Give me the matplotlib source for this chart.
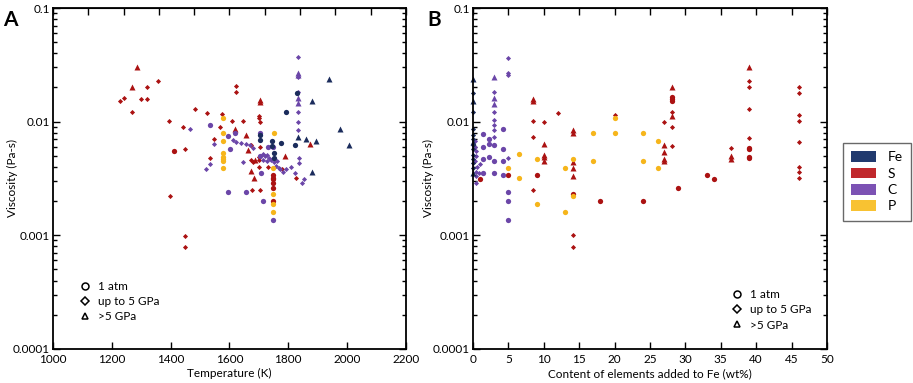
import matplotlib
matplotlib.use("Agg")
import matplotlib.pyplot as plt
from matplotlib.lines import Line2D
from matplotlib.patches import Patch
from matplotlib.ticker import LogLocator, NullFormatter, FixedLocator

plt.rcParams['font.family'] = ['Lato', 'DejaVu Sans']

# marker kinds: o = 1 atm, d = up to 5 GPa, t = >5 GPa
ELEMENTS = ["Fe", "S", "C", "P"]
COLORS = {"Fe": "#1b2c5c", "S": "#ab1212", "C": "#6b46a8", "P": "#f6b51b"}
LEGEND_COLORS = {"Fe": "#213a6e", "S": "#c0282c", "C": "#7c52b4", "P": "#f8c232"}

# ---- panel A: temperature (K) vs viscosity (Pa s)
a_fe = [
    (1705, 0.0077, "o"), (1705, 0.0069, "o"), (1746, 0.0068, "o"), (1746, 0.0061, "o"),
    (1751, 0.0053, "o"), (1751, 0.0048, "o"), (1776, 0.0065, "o"), (1792, 0.0122, "o"),
    (1824, 0.0062, "o"), (1829, 0.0178, "o"),
    (1834, 0.0074, "t"), (1860, 0.0071, "t"), (1881, 0.0153, "t"), (1894, 0.0068, "t"),
    (1937, 0.0239, "t"), (1975, 0.0087, "t"), (2007, 0.0062, "t"), (1881, 0.0036, "t"),
]
a_s = [
    (1228, 0.0152, "d"), (1243, 0.0163, "d"), (1269, 0.0122, "d"), (1300, 0.0157, "d"),
    (1320, 0.0203, "d"), (1319, 0.0159, "d"), (1358, 0.0228, "d"), (1395, 0.0101, "d"),
    (1441, 0.0090, "d"), (1449, 0.0058, "d"), (1482, 0.0128, "d"), (1524, 0.0119, "d"),
    (1574, 0.0117, "d"), (1569, 0.0090, "d"), (1548, 0.0071, "d"), (1535, 0.0048, "d"),
    (1609, 0.0101, "d"), (1647, 0.0101, "d"), (1621, 0.0206, "d"), (1621, 0.0181, "d"),
    (1701, 0.0113, "d"), (1701, 0.0108, "d"), (1703, 0.0100, "d"), (1673, 0.0062, "d"),
    (1703, 0.0060, "d"), (1673, 0.0046, "d"), (1679, 0.0044, "d"), (1701, 0.0049, "d"),
    (1701, 0.0046, "d"), (1701, 0.0040, "d"), (1730, 0.0040, "d"), (1778, 0.0038, "d"),
    (1826, 0.0032, "d"), (1398, 0.00223, "d"), (1449, 0.00099, "d"), (1449, 0.00079, "d"),
    (1705, 0.0025, "d"), (1676, 0.0025, "d"),
    (1412, 0.0055, "o"), (1749, 0.0034, "o"), (1749, 0.0032, "o"), (1749, 0.0031, "o"),
    (1749, 0.0029, "o"), (1749, 0.0026, "o"), (1749, 0.0020, "o"),
    (1286, 0.0305, "t"), (1269, 0.0200, "t"), (1620, 0.0086, "t"), (1655, 0.0077, "t"),
    (1705, 0.0155, "t"), (1705, 0.0150, "t"), (1663, 0.0056, "t"), (1687, 0.0046, "t"),
    (1675, 0.0037, "t"), (1685, 0.0032, "t"), (1790, 0.0050, "t"), (1874, 0.0064, "t"),
]
a_c = [
    (1834, 0.0368, "d"), (1834, 0.0246, "d"), (1834, 0.0181, "d"), (1834, 0.0122, "d"),
    (1834, 0.0100, "d"), (1834, 0.0085, "d"), (1836, 0.0048, "d"), (1836, 0.0043, "d"),
    (1466, 0.0087, "d"), (1548, 0.0063, "d"), (1520, 0.0038, "d"), (1535, 0.0042, "d"),
    (1613, 0.0069, "d"), (1622, 0.0066, "d"), (1638, 0.0065, "d"), (1655, 0.0063, "d"),
    (1670, 0.0062, "d"), (1680, 0.0059, "d"), (1647, 0.0044, "d"), (1713, 0.0052, "d"),
    (1720, 0.0050, "d"), (1728, 0.0051, "d"), (1735, 0.0048, "d"), (1742, 0.0046, "d"),
    (1728, 0.0045, "d"), (1714, 0.0046, "d"), (1752, 0.0044, "d"), (1762, 0.0045, "d"),
    (1760, 0.0041, "d"), (1769, 0.0039, "d"), (1772, 0.0038, "d"), (1783, 0.0036, "d"),
    (1794, 0.0038, "d"), (1809, 0.0040, "d"), (1822, 0.0035, "d"), (1855, 0.0031, "d"),
    (1846, 0.0029, "d"),
    (1834, 0.0270, "t"), (1834, 0.0258, "t"), (1834, 0.0162, "t"), (1834, 0.0145, "t"),
    (1534, 0.0093, "o"), (1596, 0.0075, "o"), (1602, 0.0058, "o"), (1620, 0.0079, "o"),
    (1705, 0.0079, "o"), (1731, 0.0060, "o"), (1749, 0.0060, "o"), (1706, 0.0035, "o"),
    (1596, 0.0024, "o"), (1655, 0.0024, "o"), (1715, 0.0020, "o"), (1749, 0.00137, "o"),
    (1704, 0.0050, "o"),
]
a_p = [
    (1577, 0.0107, "o"), (1577, 0.0079, "o"), (1577, 0.0067, "o"), (1577, 0.0053, "o"),
    (1577, 0.0049, "o"), (1577, 0.0047, "o"), (1577, 0.0045, "o"), (1577, 0.0039, "o"),
    (1750, 0.0079, "o"), (1749, 0.0039, "o"), (1749, 0.0023, "o"), (1749, 0.0019, "o"),
    (1749, 0.0016, "o"),
]

# ---- panel B: content of element added to Fe (wt%) vs viscosity (Pa s)
b_fe = [
    (0, 0.0236, "t"), (0, 0.0153, "t"), (0, 0.0066, "t"), (0, 0.0035, "t"),
    (0, 0.0178, "d"), (0, 0.0122, "d"), (0, 0.0087, "d"), (0, 0.0076, "d"),
    (0, 0.0070, "d"), (0, 0.0062, "d"), (0, 0.0058, "d"), (0, 0.0051, "d"),
    (0, 0.0047, "d"), (0, 0.0043, "d"), (0, 0.0039, "d"),
]
b_s = [
    (1.0, 0.0031, "o"), (5.0, 0.0034, "o"),
    (8.5, 0.0158, "t"), (8.5, 0.0152, "t"), (8.5, 0.0101, "d"), (8.5, 0.0074, "d"), (8.5, 0.0025, "d"),
    (9.0, 0.0034, "o"),
    (10.1, 0.0100, "d"), (10.1, 0.0063, "t"), (10.1, 0.0051, "t"), (10.1, 0.0049, "t"), (10.1, 0.0045, "t"),
    (12.0, 0.0119, "d"),
    (14.1, 0.0085, "t"), (14.1, 0.0079, "t"), (14.1, 0.0044, "t"), (14.1, 0.0039, "t"),
    (14.1, 0.0033, "t"), (14.1, 0.0023, "o"), (14.1, 0.0010, "d"), (14.1, 0.00079, "d"),
    (18.0, 0.0020, "o"), (20.0, 0.0115, "d"), (24.0, 0.0020, "o"),
    (27.0, 0.0100, "d"), (27.0, 0.0062, "t"), (27.0, 0.0054, "t"), (27.0, 0.0047, "t"), (27.0, 0.0045, "t"),
    (28.1, 0.0203, "t"), (28.1, 0.0165, "o"), (28.1, 0.0158, "o"), (28.1, 0.0152, "o"),
    (28.1, 0.0122, "d"), (28.1, 0.0112, "t"), (28.1, 0.0090, "d"), (28.1, 0.0061, "d"),
    (29.0, 0.0026, "o"), (33.0, 0.0034, "o"), (34.0, 0.0031, "o"),
    (36.5, 0.0059, "d"), (36.5, 0.0050, "t"), (36.5, 0.0047, "t"),
    (39.0, 0.0305, "t"), (39.0, 0.0228, "d"), (39.0, 0.0203, "d"), (39.0, 0.0128, "d"),
    (39.0, 0.0072, "d"), (39.0, 0.0059, "o"), (39.0, 0.0057, "o"), (39.0, 0.0049, "o"), (39.0, 0.0048, "o"),
    (46.0, 0.0203, "d"), (46.0, 0.0180, "d"), (46.0, 0.0114, "d"), (46.0, 0.0101, "d"),
    (46.0, 0.0066, "d"), (46.0, 0.0040, "d"), (46.0, 0.0036, "d"), (46.0, 0.0032, "d"),
]
b_c = [
    (0.3, 0.0067, "d"), (0.3, 0.0060, "d"), (0.5, 0.0055, "d"), (0.4, 0.0050, "d"),
    (0.3, 0.0045, "d"), (0.6, 0.0040, "d"), (0.5, 0.0036, "d"), (0.4, 0.0033, "d"),
    (0.5, 0.0029, "d"), (1.4, 0.0078, "o"), (1.4, 0.0060, "o"), (1.4, 0.0047, "o"),
    (1.4, 0.0035, "o"), (2.2, 0.0070, "o"), (2.2, 0.0064, "o"), (2.2, 0.0049, "o"),
    (1.0, 0.0042, "d"), (0.8, 0.0035, "d"),
    (3.0, 0.0249, "t"), (3.0, 0.0184, "d"), (3.0, 0.0161, "t"), (3.0, 0.0143, "t"),
    (3.0, 0.0122, "d"), (3.0, 0.0103, "d"), (3.0, 0.0094, "d"), (3.0, 0.0085, "d"),
    (3.0, 0.0074, "d"), (3.0, 0.0062, "o"), (3.0, 0.0045, "o"), (3.0, 0.0035, "o"),
    (4.3, 0.0087, "o"), (4.3, 0.0058, "o"), (4.3, 0.0045, "o"), (4.3, 0.0034, "o"),
    (5.0, 0.0366, "d"), (5.0, 0.0270, "d"), (5.0, 0.0260, "d"), (5.0, 0.0048, "d"),
    (5.0, 0.0024, "o"), (5.0, 0.0020, "o"), (5.0, 0.00137, "o"),
]
b_p = [
    (5.0, 0.0039, "o"), (6.5, 0.0052, "o"), (6.5, 0.0032, "o"), (9.0, 0.0047, "o"),
    (9.0, 0.0019, "o"), (13.0, 0.0039, "o"), (13.0, 0.0016, "o"), (14.1, 0.0047, "o"),
    (14.1, 0.0022, "o"), (17.0, 0.0079, "o"), (17.0, 0.0045, "o"), (20.0, 0.0108, "o"),
    (20.0, 0.0079, "o"), (24.0, 0.0079, "o"), (24.0, 0.0045, "o"), (26.1, 0.0067, "o"),
    (26.1, 0.0039, "o"),
]

MARKERS = {"o": ("o", 3.8), "d": ("D", 2.6), "t": ("^", 4.0)}


def draw_points(ax, pts, color):
    for kind, (mk, ms) in MARKERS.items():
        xs = [p[0] for p in pts if p[2] == kind]
        ys = [p[1] for p in pts if p[2] == kind]
        if xs:
            ax.plot(xs, ys, linestyle="none", marker=mk, ms=ms,
                    color=color, mec="none", clip_on=False)


def style_axes(ax, xlim, xmajor, xtop, ylabel_x):
    ax.set_yscale("log")
    ax.set_ylim(1e-4, 0.1)
    ax.set_xlim(*xlim)
    ax.set_xticks(xmajor)
    ax.set_yticks([1e-4, 1e-3, 1e-2, 1e-1])
    ax.set_yticklabels(["0.0001", "0.001", "0.01", "0.1"])
    ax.yaxis.set_minor_locator(LogLocator(base=10, subs=range(2, 10)))
    ax.yaxis.set_minor_formatter(NullFormatter())
    ax.tick_params(which="both", direction="in", right=True, labelsize=8.5,
                   width=1.0, pad=2)
    ax.tick_params(axis="x", pad=4)
    ax.tick_params(which="major", length=5)
    ax.tick_params(which="minor", length=3)
    for s in ax.spines.values():
        s.set_linewidth(1.3)
    top = ax.secondary_xaxis("top")
    top.xaxis.set_major_locator(FixedLocator(xtop))
    top.tick_params(direction="in", length=5, width=1.0, labeltop=False)
    ax.set_ylabel("Viscosity (Pa-s)", fontsize=8.5)
    ax.yaxis.set_label_coords(ylabel_x, 0.5)


def pressure_legend(ax, anchor):
    handles = [
        Line2D([], [], ls="none", marker="o", ms=5, mfc="none", mec="black", mew=1.1, label="1 atm"),
        Line2D([], [], ls="none", marker="D", ms=4, mfc="none", mec="black", mew=1.1, label="up to 5 GPa"),
        Line2D([], [], ls="none", marker="^", ms=5, mfc="none", mec="black", mew=1.1, label=">5 GPa"),
    ]
    ax.legend(handles=handles, loc="lower left", bbox_to_anchor=anchor, frameon=False,
              fontsize=8.5, handlelength=1.0, handletextpad=0.6, labelspacing=0.35,
              borderaxespad=0)


fig = plt.figure(figsize=(9.13, 3.83), dpi=100)
axA = fig.add_axes([0.058, 0.089, 0.3866, 0.890])
axB = fig.add_axes([0.518, 0.089, 0.3877, 0.890])

for ax, data in ((axA, (a_s, a_c, a_p, a_fe)), (axB, (b_s, b_c, b_p, b_fe))):
    for pts, el in zip(data, ["S", "C", "P", "Fe"]):
        draw_points(ax, pts, COLORS[el])

style_axes(axA, (1000, 2200), range(1000, 2201, 200),
           [1000 + 120 * i for i in range(11)], -0.10)
axA.set_xlabel("Temperature (K)", fontsize=8.5, labelpad=2)
pressure_legend(axA, (0.06, 0.065))

style_axes(axB, (0, 50), range(0, 51, 5), [5 * i for i in range(11)], -0.11)
axB.set_xlabel("Content of elements added to Fe (wt%)", fontsize=8.5, labelpad=2)
pressure_legend(axB, (0.715, 0.04))

fig.text(0.003, 0.975, "A", fontsize=15, fontweight="bold", va="top")
fig.text(0.468, 0.975, "B", fontsize=15, fontweight="bold", va="top")

el_handles = [Patch(facecolor=LEGEND_COLORS[e], edgecolor="none", label=e) for e in ELEMENTS]
fig.legend(handles=el_handles, loc="upper left", bbox_to_anchor=(843 / 913, 1 - 143 / 383),
           frameon=True, fancybox=False, edgecolor="#444444", fontsize=10,
           handlelength=1.8, handleheight=0.8, labelspacing=0.3, borderpad=0.6,
           borderaxespad=0)

fig.savefig("out.png", dpi=100)
